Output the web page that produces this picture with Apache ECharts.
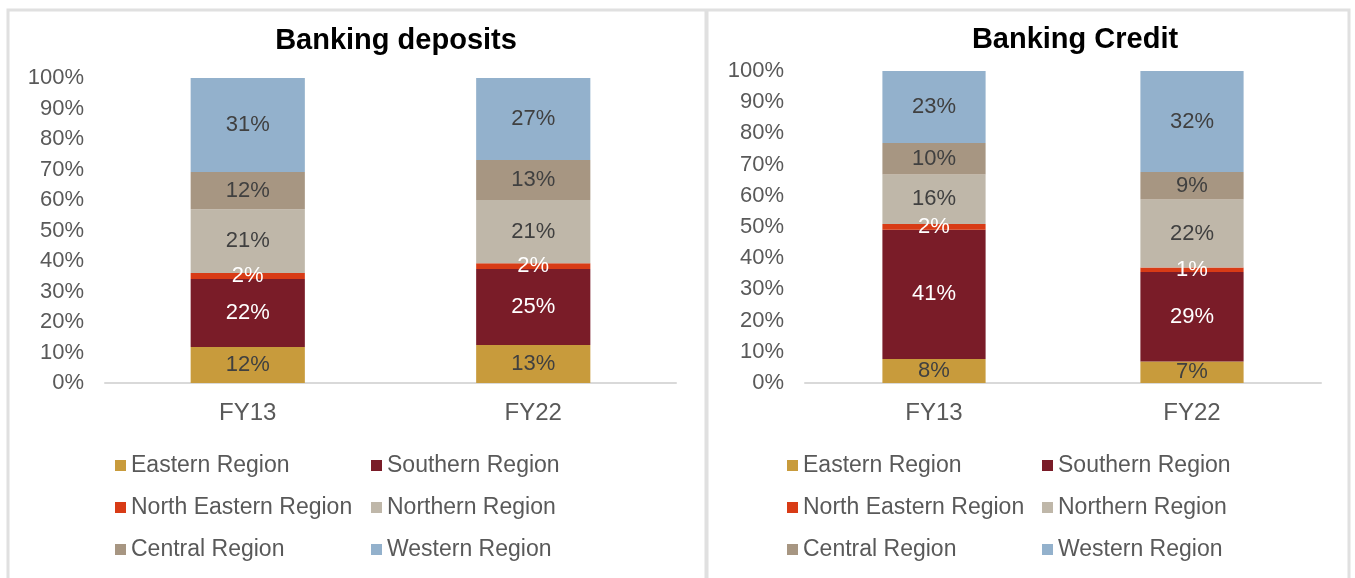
<!DOCTYPE html>
<html>
<head>
<meta charset="utf-8">
<script src="https://cdn.jsdelivr.net/npm/echarts@6/dist/echarts.min.js"></script>
<style>
  html, body { margin: 0; padding: 0; background: #fff; }
  #main { width: 1355px; height: 578px; }
</style>
</head>
<body>
<div id="main"></div>
<script>
// categories and series
var years = ['FY13', 'FY22'];
var regions = ['Eastern Region', 'Southern Region', 'North Eastern Region', 'Northern Region', 'Central Region', 'Western Region'];
var regionColors = ['#c89b3c', '#7a1c28', '#d83b16', '#bfb7a9', '#a79682', '#93b1cc'];
var labelColors = ['#404040', '#ffffff', '#ffffff', '#404040', '#404040', '#404040'];

// share in %, one row per region: [FY13, FY22]
var depositShares = [
    [11.8, 12.5],   // Eastern
    [22.3, 24.9],   // Southern
    [2.0, 1.9],     // North Eastern
    [20.9, 20.7],   // Northern
    [12.2, 13.1],   // Central
    [30.8, 26.9]    // Western
];
var creditShares = [
    [7.7, 6.9],
    [41.4, 28.7],
    [1.9, 1.4],
    [15.8, 21.8],
    [10.1, 8.8],
    [23.1, 32.4]
];

var font = "'Liberation Sans', Arial, sans-serif";

var chart = echarts.init(document.getElementById('main'));

function makeSeries(shares, idx, stackName) {
    return regions.map(function (name, i) {
        return {
            name: name,
            type: 'bar',
            stack: stackName,
            xAxisIndex: idx,
            yAxisIndex: idx,
            barWidth: '40%',
            itemStyle: { color: regionColors[i] },
            label: {
                show: true,
                position: 'inside',
                color: labelColors[i],
                fontFamily: font,
                fontSize: 22,
                formatter: function (p) { return Math.round(p.value) + '%'; }
            },
            emphasis: { disabled: true },
            data: shares[i]
        };
    });
}

function legendCol(names, left) {
    return {
        orient: 'vertical',
        left: left,
        top: 449,
        itemWidth: 11,
        itemHeight: 11,
        itemGap: 19,
        icon: 'rect',
        selectedMode: false,
        data: names,
        textStyle: { color: '#595959', fontFamily: font, fontSize: 23, lineHeight: 23 }
    };
}

var col1 = [regions[0], regions[2], regions[4]];
var col2 = [regions[1], regions[3], regions[5]];

var yAxisBase = {
    type: 'value',
    min: 0,
    max: 100,
    interval: 10,
    axisLine: { show: false },
    axisTick: { show: false },
    splitLine: { show: false },
    axisLabel: { formatter: '{value}%', color: '#595959', fontFamily: font, fontSize: 22, margin: 21 }
};
var xAxisBase = {
    type: 'category',
    data: years,
    axisLine: { lineStyle: { color: '#d9d9d9', width: 2 } },
    axisTick: { show: false },
    axisLabel: { color: '#595959', fontFamily: font, fontSize: 24, margin: 18 }
};

var option = {
    animation: false,
    graphic: [
        { type: 'rect', shape: { x: 8, y: 10, width: 1341, height: 600 }, style: { fill: 'none', stroke: '#e0e0e0', lineWidth: 3 } },
        { type: 'line', shape: { x1: 706.5, y1: 10, x2: 706.5, y2: 578 }, style: { stroke: '#e0e0e0', lineWidth: 4 } }
    ],
    title: [
        { text: 'Banking deposits', left: 391, top: 21, textAlign: 'center',
          textStyle: { fontFamily: font, fontSize: 29, fontWeight: 'bold', color: '#000' } },
        { text: 'Banking Credit', left: 1070, top: 20, textAlign: 'center',
          textStyle: { fontFamily: font, fontSize: 29, fontWeight: 'bold', color: '#000' } }
    ],
    legend: [
        legendCol(col1, 110),
        legendCol(col2, 366),
        legendCol(col1, 782),
        legendCol(col2, 1037)
    ],
    grid: [
        { left: 105, right: 679, top: 78, bottom: 195 },
        { left: 805, right: 34, top: 71, bottom: 195 }
    ],
    xAxis: [
        Object.assign({ gridIndex: 0 }, xAxisBase),
        Object.assign({ gridIndex: 1 }, xAxisBase)
    ],
    yAxis: [
        Object.assign({ gridIndex: 0 }, yAxisBase),
        Object.assign({ gridIndex: 1 }, yAxisBase)
    ],
    series: makeSeries(depositShares, 0, 'deposits').concat(makeSeries(creditShares, 1, 'credit'))
};
chart.setOption(option);
</script>
</body>
</html>
